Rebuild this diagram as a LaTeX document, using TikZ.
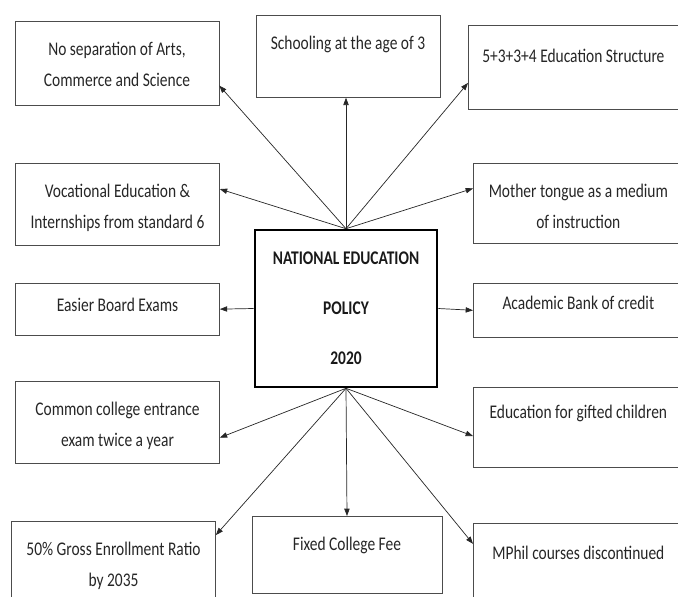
\documentclass[tikz,border=0pt]{standalone}
\usepackage{fontspec}
\setmainfont[FakeStretch=0.8]{Carlito}
\usepackage{tikz}
\usetikzlibrary{arrows.meta, positioning, calc}
\tikzset{
    infobox/.style={rectangle, draw=black!70, line width=0.6pt, anchor=north, inner sep=0pt, minimum width=6.12cm, text height=29pt, text depth=#1, align=center, text=black!85, font=\fontsize{16.5}{26.5}\selectfont},
    twoline/.style={text height=55.5pt},
    rightbox/.style={infobox=#1, anchor=north west, minimum width=6.3cm},
    policybox/.style={rectangle, draw=black, line width=2.2pt, minimum width=5.46cm, minimum height=4.71cm, align=center, text=black!90, font=\fontsize{16.5}{42.7}\selectfont\bfseries},
    flowarrow/.style={-{Triangle[length=2.2mm,width=1.6mm]}, line width=0.6pt, draw=black!85}
}
\begin{document}
\begin{tikzpicture}[x=0.03cm, y=-0.03cm]
    \useasboundingbox (0,0) rectangle (678,597);

    \node[policybox] (policy) at (346,308.5) {NATIONAL EDUCATION\\POLICY\\2020};

    % Left column
    \node[infobox=16.5pt, twoline] (sep) at (117,21) {No separation of Arts,\\Commerce and Science};
    \node[infobox=14.5pt, twoline] (voc) at (117.5,163) {Vocational Education \&\\Internships from standard 6};
    \node[infobox=20pt, text height=24pt] (easier) at (117.5,283) {Easier Board Exams};
    \node[infobox=14.5pt, twoline] (common) at (117.5,381) {Common college entrance\\exam twice a year};
    \node[infobox=14.5pt, twoline] (gross) at (113.5,521) {50\% Gross Enrollment Ratio\\by 2035};

    % Middle column
    \node[infobox=41pt, minimum width=5.52cm] (school) at (348,15) {Schooling at the age of 3};
    \node[infobox=36.7pt, minimum width=5.7cm] (fixed) at (347,516) {Fixed College Fee};

    % Right column
    \node[rightbox=39.3pt, text height=32pt] (struct) at (468,25) {5+3+3+4 Education Structure};
    \node[rightbox=12.8pt, twoline] (mother) at (473,163) {Mother tongue as a medium\\of instruction};
    \node[rightbox=24pt, text height=22pt] (academic) at (473,283) {Academic Bank of credit};
    \node[rightbox=41pt, text height=27pt] (gifted) at (473,387) {Education for gifted children};
    \node[rightbox=41pt, text height=31pt] (mphil) at (473,523) {MPhil courses discontinued};

    % Upper arrows
    \draw[flowarrow] (policy.north) -- ($(sep.east)!0.52!(sep.south east)$);
    \draw[flowarrow] (policy.north) -- (policy.north |- school.south);
    \draw[flowarrow] (policy.north) -- ($(struct.west)!0.375!(struct.south west)$);
    \draw[flowarrow] (policy.north) -- ($(voc.north east)!0.63!(voc.east)$);
    \draw[flowarrow] (policy.north) -- ($(mother.north west)!0.63!(mother.west)$);

    % Side arrows
    \draw[flowarrow] (policy.west) -- (easier.east);
    \draw[flowarrow] (policy.east) -- (academic.west);

    % Lower arrows
    \draw[flowarrow] (policy.south) -- ($(common.east)!0.37!(common.south east)$);
    \draw[flowarrow] (policy.south) -- ($(gross.north east)!0.34!(gross.east)$);
    \draw[flowarrow] (policy.south) -- (fixed.north);
    \draw[flowarrow] (policy.south) -- ($(gifted.west)!0.22!(gifted.south west)$);
    \draw[flowarrow] (policy.south) -- ($(mphil.north west)!0.49!(mphil.west)$);
\end{tikzpicture}
\end{document}
